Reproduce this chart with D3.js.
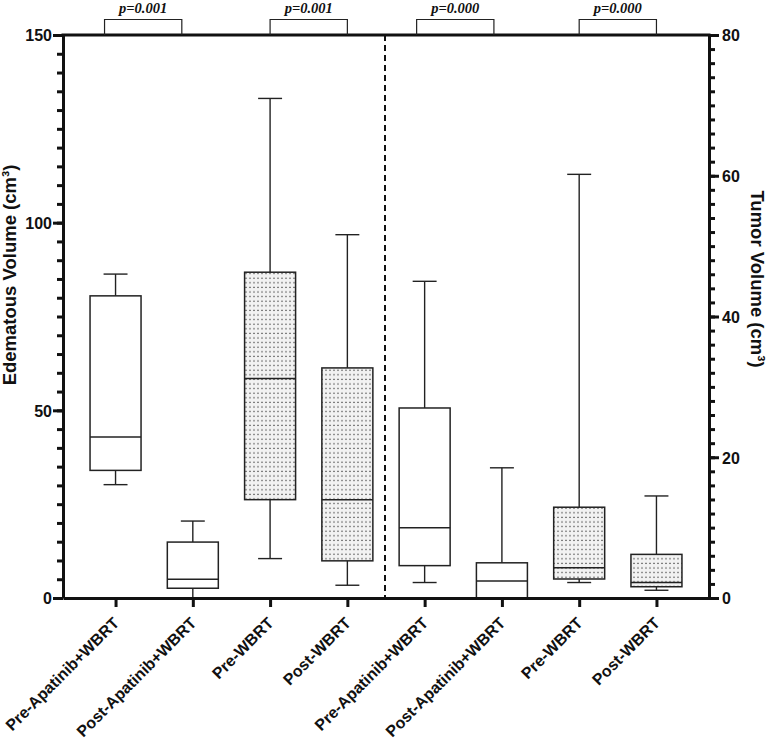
<!DOCTYPE html>
<html>
<head>
<meta charset="utf-8">
<script src="https://cdn.jsdelivr.net/npm/d3@7"></script>
<style>
  body { margin: 0; background: #fff; }
  svg { display: block; }
  .tick text { font-family: "Liberation Sans", Arial, sans-serif; font-weight: bold; fill: #111; }
  .axis-title { font-family: "Liberation Sans", Arial, sans-serif; font-weight: bold; font-size: 18.5px; fill: #111; }
  .pval { font-family: "Liberation Serif", "Times New Roman", serif; font-weight: bold; font-style: italic; font-size: 14.5px; fill: #111; }
</style>
</head>
<body>
<svg class="chart" width="768" height="739"></svg>
<script>
const categories = ["Pre-Apatinib+WBRT", "Post-Apatinib+WBRT", "Pre-WBRT", "Post-WBRT",
                    "Pre-Apatinib+WBRT", "Post-Apatinib+WBRT", "Pre-WBRT", "Post-WBRT"];
// first four boxes read on the left axis (edema), last four on the right axis (tumor)
const axisSide = ["left", "left", "left", "left", "right", "right", "right", "right"];
const whiskerLow  = [30.2, 0.0, 10.5, 3.4, 2.2, 0.0, 2.2, 1.1];
const quartile1   = [34.0, 2.6, 26.2, 9.9, 4.6, 0.0, 2.7, 1.6];
const medians     = [42.9, 5.0, 58.5, 26.2, 10.0, 2.4, 4.3, 2.2];
const quartile3   = [80.5, 14.9, 86.8, 61.3, 27.0, 5.0, 12.9, 6.2];
const whiskerHigh = [86.3, 20.5, 133.1, 96.8, 45.0, 18.5, 60.2, 14.5];
const dotted      = [false, false, true, true, false, false, true, true];

const leftTicks = [0, 50, 100, 150];
const rightTicks = [0, 20, 40, 60, 80];
const pairs = [[0, 1], [2, 3], [4, 5], [6, 7]];
const pValues = ["p=0.001", "p=0.001", "p=0.000", "p=0.000"];

const LEFT = 63, RIGHT = 709, TOP = 35, BOTTOM = 598;
const AXIS_WIDTH = 3;

const svg = d3.select("svg.chart");

const x = d3.scalePoint().domain(d3.range(categories.length)).range([LEFT, RIGHT]).padding(0.68);
const yLeft = d3.scaleLinear().domain([0, 150]).range([BOTTOM, TOP]);
const yRight = d3.scaleLinear().domain([0, 80]).range([BOTTOM, TOP]);
const yFor = i => axisSide[i] === "left" ? yLeft : yRight;

const boxWidth = x.step() * 0.66;
const capWidth = x.step() * 0.31;

// dot fill used by the WBRT-only boxes
const defs = svg.append("defs");
const pat = defs.append("pattern")
    .attr("id", "dots")
    .attr("patternUnits", "userSpaceOnUse")
    .attr("width", 4)
    .attr("height", 4.6);
pat.append("rect").attr("width", 4).attr("height", 4.6).attr("fill", "#f2f2f2");
pat.append("rect").attr("x", 1.4).attr("y", 1.6).attr("width", 1.2).attr("height", 1.2).attr("fill", "#333");

// boxes
const boxes = svg.append("g").attr("class", "boxes")
    .selectAll("g").data(categories).enter().append("g");

boxes.append("line")
    .attr("x1", (d, i) => x(i)).attr("x2", (d, i) => x(i))
    .attr("y1", (d, i) => yFor(i)(whiskerHigh[i]))
    .attr("y2", (d, i) => yFor(i)(quartile3[i]))
    .attr("stroke", "#222").attr("stroke-width", 1.4);
boxes.append("line")
    .attr("x1", (d, i) => x(i)).attr("x2", (d, i) => x(i))
    .attr("y1", (d, i) => yFor(i)(quartile1[i]))
    .attr("y2", (d, i) => yFor(i)(whiskerLow[i]))
    .attr("stroke", "#222").attr("stroke-width", 1.4);
boxes.selectAll(".cap")
    .data((d, i) => [{ i, v: whiskerHigh[i] }, { i, v: whiskerLow[i] }])
    .enter().append("line")
    .attr("class", "cap")
    .attr("x1", c => x(c.i) - capWidth / 2).attr("x2", c => x(c.i) + capWidth / 2)
    .attr("y1", c => yFor(c.i)(c.v)).attr("y2", c => yFor(c.i)(c.v))
    .attr("stroke", "#222").attr("stroke-width", 1.4);
boxes.append("rect")
    .attr("x", (d, i) => x(i) - boxWidth / 2)
    .attr("width", boxWidth)
    .attr("y", (d, i) => yFor(i)(quartile3[i]))
    .attr("height", (d, i) => yFor(i)(quartile1[i]) - yFor(i)(quartile3[i]))
    .attr("fill", (d, i) => dotted[i] ? "url(#dots)" : "#fff")
    .attr("stroke", "#222").attr("stroke-width", 1.5);
boxes.append("line")
    .attr("x1", (d, i) => x(i) - boxWidth / 2).attr("x2", (d, i) => x(i) + boxWidth / 2)
    .attr("y1", (d, i) => yFor(i)(medians[i])).attr("y2", (d, i) => yFor(i)(medians[i]))
    .attr("stroke", "#222").attr("stroke-width", 1.5);

// dashed divider between the two panels
const divX = (x(3) + x(4)) / 2 - 1;
svg.append("line")
    .attr("x1", divX).attr("x2", divX)
    .attr("y1", TOP).attr("y2", BOTTOM)
    .attr("stroke", "#111").attr("stroke-width", 2)
    .attr("stroke-dasharray", "6,4");

// axes
const styleAxis = g => {
    g.selectAll("path.domain").attr("stroke", "#111").attr("stroke-width", AXIS_WIDTH);
    g.selectAll(".tick line").attr("stroke", "#111").attr("stroke-width", AXIS_WIDTH);
};

svg.append("g")
    .attr("transform", `translate(${LEFT},0)`)
    .call(d3.axisLeft(yLeft).tickValues(d3.range(0, 151, 5)).tickSize(6).tickFormat(""))
    .call(g => g.select(".domain").remove())
    .call(styleAxis);
svg.append("g")
    .attr("transform", `translate(${LEFT},0)`)
    .call(d3.axisLeft(yLeft).tickValues(leftTicks).tickSize(10).tickSizeOuter(0).tickPadding(1))
    .call(styleAxis)
    .call(g => g.selectAll(".tick text").attr("font-size", 16).attr("dy", "0.36em"));

svg.append("g")
    .attr("transform", `translate(${RIGHT},0)`)
    .call(d3.axisRight(yRight).tickValues(d3.range(0, 81, 2)).tickSize(6).tickFormat(""))
    .call(g => g.select(".domain").remove())
    .call(styleAxis);
svg.append("g")
    .attr("transform", `translate(${RIGHT},0)`)
    .call(d3.axisRight(yRight).tickValues(rightTicks).tickSize(10).tickSizeOuter(0).tickPadding(3))
    .call(styleAxis)
    .call(g => g.selectAll(".tick text").attr("font-size", 16).attr("dy", "0.36em"));

svg.append("line")
    .attr("x1", LEFT - 1.5).attr("x2", RIGHT + 1.5)
    .attr("y1", TOP).attr("y2", TOP)
    .attr("stroke", "#111").attr("stroke-width", AXIS_WIDTH);

svg.append("g")
    .attr("transform", `translate(0,${BOTTOM})`)
    .call(d3.axisBottom(x).tickSize(9).tickSizeOuter(0).tickFormat(i => categories[i]))
    .call(styleAxis)
    .call(g => g.selectAll(".tick text")
        .attr("font-size", 16)
        .attr("text-anchor", "end")
        .attr("x", 0).attr("y", 0).attr("dy", 0)
        .attr("transform", "translate(4,26) rotate(-45)"));

// axis titles
svg.append("text")
    .attr("class", "axis-title")
    .attr("text-anchor", "middle")
    .attr("transform", "translate(16,275) rotate(-90)")
    .text("Edematous Volume (cm³)");
svg.append("text")
    .attr("class", "axis-title")
    .attr("text-anchor", "middle")
    .attr("transform", "translate(751,279) rotate(90)")
    .text("Tumor Volume (cm³)");

// significance brackets above the frame
const bracketNudge = [-11, 0, -8, 0];
const bracketTop = TOP - 15.5;
const brackets = svg.append("g").attr("class", "brackets")
    .selectAll("g").data(pairs).enter().append("g");
brackets.append("path")
    .attr("d", (p, k) => {
        const a = x(p[0]) + bracketNudge[k], b = x(p[1]) + bracketNudge[k];
        return `M${a},${TOP}V${bracketTop}H${b}V${TOP}`;
    })
    .attr("fill", "none").attr("stroke", "#222").attr("stroke-width", 1.2);
brackets.append("text")
    .attr("class", "pval")
    .attr("text-anchor", "middle")
    .attr("x", (p, k) => (x(p[0]) + x(p[1])) / 2 + bracketNudge[k])
    .attr("y", 13)
    .text((p, k) => pValues[k]);
</script>
</body>
</html>
